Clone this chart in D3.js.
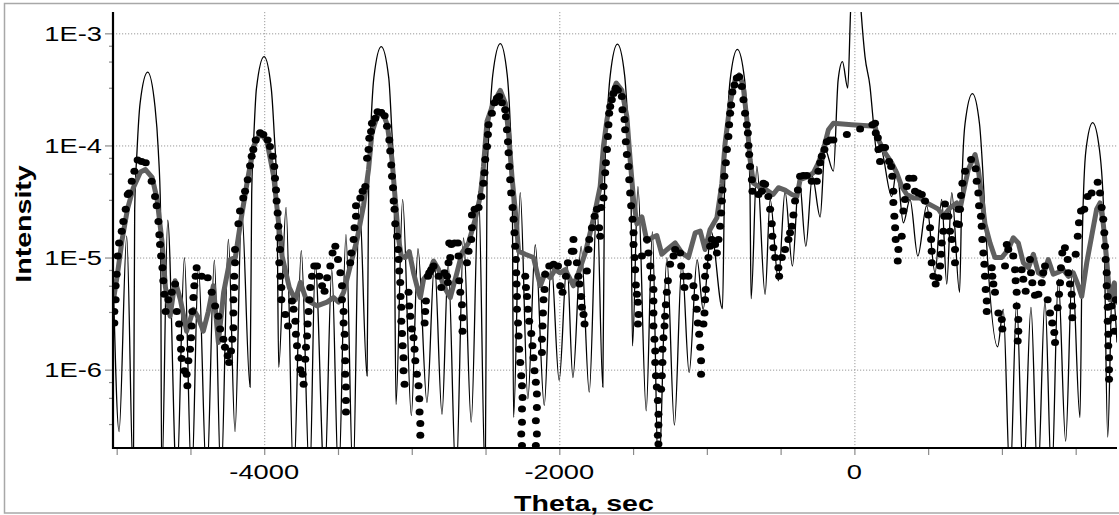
<!DOCTYPE html>
<html>
<head>
<meta charset="utf-8">
<script src="https://cdn.jsdelivr.net/npm/d3@7/dist/d3.min.js"></script>
<style>
  body { margin: 0; background: #fff; }
  text { font-family: "Liberation Sans", Arial, sans-serif; fill: #000; }
</style>
</head>
<body>
<div id="chart"></div>
<script>
// axis ranges and ticks
const xDomain = [-5025, 1780];
const yDomain = [2e-7, 1.55e-3];
const xMajorTicks = [-4000, -2000, 0];
const xMinorTicks = [-5000, -4500, -4000, -3500, -3000, -2500, -2000, -1500, -1000, -500, 0, 500, 1000, 1500];
const yMajorTicks = [1e-3, 1e-4, 1e-5, 1e-6];
const yMinorMantissa = [7.75, 5.6, 3.27];

// simulated curve (thin black line), [theta, intensity]
const simData = [
  [-5022,5.5e-6],[-4984,2.8e-7],[-4932,1.55e-5],[-4887,1e-7],[-4878,2.7e-5],[-4862,9e-5],[-4841,2.4e-4],
  [-4790,4.5e-4],[-4740,2.2e-4],[-4718,9e-5],[-4703,2.7e-5],
  [-4695,1e-7],[-4654,2.15e-5],[-4593,1e-7],[-4541,1e-5],[-4492,1e-7],[-4446,8.4e-6],[-4390,1e-7],
  [-4338,9.5e-6],[-4293,1e-7],[-4243,1.45e-5],[-4198,2.8e-7],[-4153,2.7e-5],[-4096,7e-7],
  [-4085,3.7e-5],[-4070,1.25e-4],[-4053,3.2e-4],[-4001,6.2e-4],[-3952,3.2e-4],[-3932,1.25e-4],[-3914,3.7e-5],
  [-3902,1.05e-6],[-3852,2.8e-5],[-3801,1e-7],[-3749,1.15e-5],[-3692,1e-7],
  [-3654,8.7e-6],[-3591,1e-7],[-3542,7.8e-6],[-3496,1e-7],[-3446,1.6e-5],[-3398,1e-7],[-3356,3.3e-5],
  [-3303,8.8e-7],[-3292,4.5e-5],[-3277,1.5e-4],[-3257,4e-4],[-3207,7.6e-4],[-3156,4e-4],[-3137,1.5e-4],
  [-3120,4.5e-5],[-3107,4.9e-7],[-3062,3.3e-5],[-3003,3.9e-7],
  [-2958,1.2e-5],[-2897,5.1e-7],[-2846,9e-6],[-2795,4e-7],[-2753,8.7e-6],[-2700,1e-7],[-2649,1.5e-5],
  [-2597,3.4e-7],[-2547,3.9e-5],[-2502,1e-7],[-2490,4.8e-5],[-2473,1.6e-4],[-2451,4.25e-4],[-2400,8.1e-4],
  [-2353,4.25e-4],[-2333,1.6e-4],[-2319,4.8e-5],[-2310,3.75e-7],
  [-2265,3.8e-5],[-2213,5.5e-7],[-2163,1.3e-5],[-2102,4.8e-7],[-2055,9e-6],[-2001,8e-7],[-1948,9e-6],
  [-1908,8.5e-7],[-1852,1.26e-5],[-1797,6.3e-7],[-1745,3.2e-5],[-1705,7e-7],[-1693,4.8e-5],[-1677,1.6e-4],
  [-1655,4.2e-4],[-1606,8e-4],[-1557,4.2e-4],[-1535,1.6e-4],[-1515,4.8e-5],
  [-1504,1.63e-6],[-1467,4.3e-5],[-1411,4.3e-7],[-1369,1.7e-5],[-1328,1e-7],[-1271,1e-5],
  [-1220,3.2e-7],[-1169,9e-6],[-1120,9.4e-7],[-1066,9.6e-6],[-1025,3.45e-6],[-971,1.7e-5],[-894,3.5e-6],
  [-880,4.3e-5],[-863,1.45e-4],[-842,3.85e-4],[-793,7.2e-4],[-744,3.85e-4],[-724,1.45e-4],[-708,4.3e-5],
  [-700,4.3e-6],[-661,6.5e-5],[-605,4.7e-6],[-571,3.3e-5],
  [-515,6.2e-6],[-470,3.9e-5],[-420,8.4e-6],[-375,5.3e-5],[-329,1.26e-5],[-285,5.3e-5],[-232,2.3e-5],
  [-199,9.2e-5],[-142,5.9e-5],[-110,3.85e-4],[-81,5.6e-4],[-45,3.25e-4],[-26,1.55e-3],[8,1e-2],[45,1.6e-3],
  [72,6.2e-4],[106,3.35e-4],[129,1.6e-4],[152,8.6e-5],[174,9.8e-5],[253,3.5e-5],[287,6.1e-5],[332,2.04e-5],
  [377,3.3e-5],[430,1.03e-5],[490,2.9e-5],[547,7.3e-6],[592,3.3e-5],[626,5.8e-6],[660,3.8e-5],[713,4.9e-6],
  [730,5e-5],[750,1.56e-4],[800,2.9e-4],[848,1.56e-4],[870,6e-5],[886,2.3e-5],[971,1.6e-6],[1009,3.45e-6],
  [1055,1e-7],[1100,4e-6],
  [1145,1e-7],[1197,3.6e-6],[1243,1e-7],[1292,4.2e-6],[1337,1e-7],[1382,6.4e-6],[1432,2.3e-7],[1477,7.8e-6],
  [1529,3.75e-7],[1545,1.5e-5],[1570,9.2e-5],[1615,1.6e-4],[1661,9.2e-5],[1690,2.5e-5],[1717,2.5e-7],
  [1748,5.6e-6],[1780,1.75e-6]
];

// measured points (black dots)
const expData = [
  [-5016,2.6e-6],[-5016,3.3e-6],[-5007,4.2e-6],[-5007,5.6e-6],[-5000,7.1e-6],[-4993,1.03e-5],[-4984,1.35e-5],
  [-4966,1.72e-5],[-4955,2.1e-5],[-4939,2.7e-5],[-4925,3.65e-5],[-4916,3.77e-5],[-4898,4.8e-5],[-4880,5.9e-5],
  [-4858,7.4e-5],[-4831,7.2e-5],[-4803,7.0e-5],[-4763,4.8e-5],[-4740,3.5e-5],[-4729,2.9e-5],[-4717,2.1e-5],
  [-4711,1.6e-5],[-4706,1.31e-5],[-4699,1.03e-5],[-4690,8.1e-6],[-4684,6.2e-6],[-4677,4.7e-6],[-4668,3.3e-6],
  [-4650,4.2e-6],[-4627,4.9e-6],[-4604,5.8e-6],[-4593,3.3e-6],[-4577,2.55e-6],[-4570,1.93e-6],[-4564,1.52e-6],
  [-4560,1.26e-6],[-4541,9.8e-7],[-4526,9.1e-7],[-4521,7.2e-7],[-4514,1.2e-6],[-4503,1.52e-6],[-4496,1.93e-6],
  [-4492,2.45e-6],[-4487,3.3e-6],[-4480,4.4e-6],[-4474,5.6e-6],[-4465,6.8e-6],[-4458,8.1e-6],[-4424,6.8e-6],
  [-4383,6.6e-6],[-4356,4.9e-6],[-4333,3.7e-6],[-4311,3.0e-6],[-4299,2.3e-6],[-4277,1.87e-6],[-4266,1.58e-6],
  [-4248,1.33e-6],[-4238,1.16e-6],[-4225,1.47e-6],[-4216,1.87e-6],[-4209,2.37e-6],[-4209,3.2e-6],[-4209,4.2e-6],
  [-4203,5.4e-6],[-4203,6.8e-6],[-4198,9.0e-6],[-4198,1.18e-5],[-4175,2.0e-5],[-4164,2.6e-5],[-4142,3.4e-5],
  [-4130,3.9e-5],[-4112,4.95e-5],[-4096,6.6e-5],[-4085,8.0e-5],[-4074,9.2e-5],[-4058,1.12e-4],[-4028,1.3e-4],
  [-4006,1.25e-4],[-3977,1.12e-4],[-3961,9.8e-5],[-3943,8.0e-5],[-3932,6.5e-5],[-3927,5.1e-5],[-3920,4.0e-5],
  [-3916,3.2e-5],[-3909,2.5e-5],[-3904,1.9e-5],[-3900,1.5e-5],[-3893,1.18e-5],
  [-3898,9.0e-6],[-3891,6.8e-6],[-3884,5.4e-6],[-3884,4.2e-6],[-3857,3.1e-6],[-3839,2.45e-6],[-3812,4.1e-6],
  [-3801,3.45e-6],[-3789,2.7e-6],[-3785,2.07e-6],[-3778,1.63e-6],[-3767,1.28e-6],[-3755,1.0e-6],[-3740,9.1e-7],
  [-3733,7.4e-7],[-3722,1.24e-6],[-3717,1.58e-6],[-3710,2.0e-6],[-3706,2.55e-6],[-3699,3.3e-6],[-3694,4.2e-6],
  [-3688,5.4e-6],[-3676,6.8e-6],[-3661,8.4e-6],[-3642,8.4e-6],[-3627,6.8e-6],[-3608,5.6e-6],[-3591,5.0e-6],
  [-3574,6.6e-6],[-3552,8.4e-6],[-3537,1.1e-5],[-3518,1.26e-5],[-3500,9.6e-6],[-3484,7.3e-6],[-3473,5.6e-6],
  [-3473,4.2e-6],[-3462,3.3e-6],[-3462,2.6e-6],[-3455,2.07e-6],[-3455,1.58e-6],[-3451,1.2e-6],[-3451,9.1e-7],
  [-3446,7.0e-7],[-3446,5.3e-7],[-3446,4.2e-7],[-3417,9.0e-6],[-3410,1.1e-5],[-3394,1.45e-5],[-3388,1.84e-5],
  [-3378,2.33e-5],[-3378,2.9e-5],[-3349,3.4e-5],[-3333,3.9e-5],[-3315,4.3e-5],[-3303,7.7e-5],[-3293,9.2e-5],
  [-3288,1.16e-4],[-3276,1.33e-4],[-3270,1.58e-4],[-3247,1.75e-4],[-3232,2.0e-4],[-3207,1.97e-4],[-3184,1.84e-4],
  [-3168,1.48e-4],[-3152,1.12e-4],[-3146,8.9e-5],[-3139,6.7e-5],[-3134,5.3e-5],[-3127,4.2e-5],[-3123,3.2e-5],
  [-3117,2.7e-5],[-3112,2.0e-5],[-3100,1.55e-5],[-3093,1.18e-5],[-3089,9.6e-6],[-3085,7.6e-6],[-3078,6.0e-6],
  [-3076,4.5e-6],[-3071,3.6e-6],[-3071,2.7e-6],[-3066,2.1e-6],[-3062,1.63e-6],[-3056,1.28e-6],[-3056,9.8e-7],
  [-3049,7.4e-7],[-3022,4.9e-6],[-3017,3.7e-6],[-3010,3.0e-6],[-2999,2.3e-6],[-2988,1.93e-6],[-2981,1.52e-6],
  [-2976,1.2e-6],[-2965,9.1e-7],[-2954,7.2e-7],[-2949,5.5e-7],[-2947,4.2e-7],[-2942,3.3e-7],[-2942,2.6e-7],
  [-2913,2.6e-6],[-2909,3.3e-6],[-2904,4.1e-6],[-2890,6.8e-6],[-2881,7.3e-6],[-2868,7.8e-6],[-2852,8.4e-6],
  [-2818,6.8e-6],[-2800,5.4e-6],[-2778,7.3e-6],[-2761,6.8e-6],[-2751,9.0e-6],[-2746,1.35e-5],
  [-2755,6.0e-6],[-2739,1.0e-5],[-2732,1.31e-5],[-2710,1.35e-5],[-2687,1.35e-5],[-2683,1.03e-5],[-2678,6.2e-6],
  [-2671,4.9e-6],[-2660,3.8e-6],[-2656,2.9e-6],[-2656,2.2e-6],[-2626,9.0e-6],[-2615,1.14e-5],[-2597,1.45e-5],
  [-2592,1.84e-5],[-2592,2.4e-5],[-2574,2.7e-5],[-2547,2.8e-5],[-2529,3.5e-5],[-2514,4.6e-5],[-2507,5.7e-5],
  [-2502,7.5e-5],[-2490,9.8e-5],[-2484,1.25e-4],[-2480,1.53e-4],[-2457,1.94e-4],[-2439,2.4e-4],[-2423,2.64e-4],
  [-2407,2.73e-4],[-2389,2.4e-4],[-2367,2.08e-4],[-2362,1.8e-4],[-2355,1.38e-4],[-2348,1.08e-4],[-2344,8.6e-5],
  [-2339,6.5e-5],[-2333,4.95e-5],[-2326,3.77e-5],[-2317,2.8e-5],[-2310,2.2e-5],[-2304,1.66e-5],[-2299,1.26e-5],
  [-2294,9.6e-6],[-2292,7.3e-6],[-2290,5.8e-6],[-2287,4.5e-6],[-2287,3.45e-6],[-2280,2.6e-6],[-2276,2.0e-6],
  [-2272,1.52e-6],[-2265,1.16e-6],[-2258,8.8e-7],[-2253,7.2e-7],[-2249,5.65e-7],[-2253,4.45e-7],[-2253,3.4e-7],
  [-2258,2.67e-7],[-2253,2.1e-7],
  [-2231,6.8e-6],[-2226,5.4e-6],[-2219,4.5e-6],[-2213,3.45e-6],[-2204,2.7e-6],[-2190,2.1e-6],[-2182,1.63e-6],
  [-2175,1.28e-6],[-2168,9.8e-7],[-2159,7.7e-7],[-2152,6.05e-7],[-2152,4.6e-7],[-2159,3.5e-7],[-2152,2.67e-7],
  [-2159,2.1e-7],
  [-2118,1.42e-6],[-2118,1.87e-6],[-2114,2.45e-6],[-2111,3.2e-6],[-2107,4.2e-6],[-2100,5.2e-6],[-2096,7.1e-6],
  [-2068,8.4e-6],[-2039,8.7e-6],[-2009,8.4e-6],[-1994,5.6e-6],[-1978,4.9e-6],[-1955,6.8e-6],[-1942,9.0e-6],
  [-1915,1.14e-5],[-1904,1.45e-5],[-1904,1.14e-5],[-1881,9.0e-6],[-1870,6.8e-6],[-1863,5.8e-6],[-1852,4.5e-6],
  [-1847,3.6e-6],[-1836,3.1e-6],[-1829,2.55e-6],[-1813,7.6e-6],[-1802,1.18e-5],[-1797,1.45e-5],[-1779,1.84e-5],
  [-1761,2.33e-5],[-1745,2.7e-5],[-1730,1.84e-5],[-1723,1.55e-5],[-1716,2.8e-5],[-1700,3.4e-5],[-1700,4.3e-5],
  [-1689,5.7e-5],[-1684,7.0e-5],[-1677,9.2e-5],[-1671,1.2e-4],[-1667,1.53e-4],[-1662,1.94e-4],[-1655,2.22e-4],
  [-1644,2.55e-4],[-1633,2.9e-4],[-1617,3.24e-4],[-1603,3.1e-4],
  [-1576,2.73e-4],[-1572,2.08e-4],[-1558,1.7e-4],[-1554,1.38e-4],[-1549,1.08e-4],[-1542,8.3e-5],[-1531,6.5e-5],
  [-1526,4.95e-5],[-1520,3.77e-5],[-1513,2.9e-5],[-1504,2.2e-5],[-1497,1.66e-5],[-1497,1.31e-5],[-1490,1.0e-5],
  [-1486,7.8e-6],[-1481,5.7e-6],[-1474,4.7e-6],[-1467,4.0e-6],[-1463,3.1e-6],[-1467,2.55e-6],[-1440,1.03e-5],
  [-1406,1.45e-5],[-1396,1.1e-5],[-1384,8.4e-6],[-1373,6.6e-6],[-1362,5.2e-6],[-1362,4.1e-6],[-1362,3.2e-6],
  [-1362,2.45e-6],[-1355,1.87e-6],[-1350,1.47e-6],[-1350,1.16e-6],[-1345,8.8e-7],[-1339,7.0e-7],[-1332,5.3e-7],
  [-1328,4.0e-7],[-1328,3.2e-7],[-1332,2.6e-7],[-1328,2.17e-7],[-1310,6.7e-7],[-1305,8.8e-7],[-1301,1.16e-6],
  [-1301,1.52e-6],[-1294,1.93e-6],[-1287,2.45e-6],[-1283,3.0e-6],[-1278,3.8e-6],[-1271,4.9e-6],[-1264,6.2e-6],
  [-1249,8.7e-6],[-1226,1.03e-5],[-1215,1.18e-5],[-1181,1.1e-5],[-1174,8.4e-6],[-1159,6.8e-6],[-1152,5.4e-6],
  [-1125,6.8e-6],[-1091,5.6e-6],[-1079,4.4e-6],[-1068,3.45e-6],[-1061,2.6e-6],[-1052,2.07e-6],[-1045,1.58e-6],
  [-1039,1.2e-6],[-1039,9.1e-7],[-1023,2.55e-6],[-1016,3.2e-6],[-1012,4.2e-6],[-1007,5.2e-6],[-1012,6.8e-6],
  [-1000,8.4e-6],[-989,1.0e-5],[-978,1.26e-5],[-966,1.45e-5],[-944,1.31e-5],[-932,1.1e-5],[-921,1.45e-5],
  [-910,1.9e-5],[-903,2.5e-5],[-898,3.2e-5],[-894,4.0e-5],[-881,5.3e-5],[-871,7.0e-5],[-864,9.2e-5],
  [-854,1.2e-4],[-849,1.53e-4],[-842,1.94e-4],[-835,2.3e-4],[-827,3.0e-4],[-813,3.46e-4],[-797,4.0e-4],
  [-781,4.1e-4],[-763,3.35e-4],[-752,2.55e-4],[-741,1.94e-4],[-729,1.53e-4],[-722,1.29e-4],[-718,1.0e-4],
  [-713,8.3e-5],[-707,6.5e-5],[-695,4.95e-5],[-691,3.9e-5],[-650,3.65e-5],[-627,3.9e-5],[-617,4.6e-5],
  [-605,4.5e-5],[-583,3.5e-5],[-571,2.7e-5],[-560,2.0e-5],[-556,1.55e-5],[-549,1.22e-5],[-537,1.0e-5],
  [-515,8.1e-6],[-510,6.8e-6],[-492,1.0e-5],[-470,1.18e-5],[-447,1.45e-5],[-436,1.66e-5],
  [-424,1.9e-5],[-413,2.4e-5],[-402,3.2e-5],[-383,4.0e-5],[-368,5.3e-5],[-346,5.4e-5],[-322,5.4e-5],
  [-289,4.8e-5],[-255,4.8e-5],[-244,5.9e-5],[-232,7.0e-5],[-221,8.0e-5],[-203,9.2e-5],[-187,1.08e-4],
  [-165,1.12e-4],[-142,1.12e-4],[-51,1.25e-4],[39,1.4e-4],[122,1.53e-4],[140,1.58e-4],[145,1.29e-4],
  [159,1.17e-4],[163,9.2e-5],[174,7.2e-5],[186,9.6e-5],[208,9.6e-5],[235,7.2e-5],[249,6.5e-5],[257,5.3e-5],
  [264,3.9e-5],[264,3.1e-5],[271,2.33e-5],[276,1.84e-5],[280,1.45e-5],[298,1.18e-5],[294,9.3e-6],[321,1.55e-5],
  [332,2.6e-5],[343,3.3e-5],[355,4.3e-5],[371,5.1e-5],[400,5.1e-5],[411,3.9e-5],[434,3.77e-5],[457,3.65e-5],
  [479,3.2e-5],[501,2.4e-5],[513,1.84e-5],[520,1.45e-5],[524,1.14e-5],[524,9.0e-6],[535,6.8e-6],[551,5.8e-6],
  [569,6.6e-6],[581,8.4e-6],[587,1.07e-5],[592,1.35e-5],[603,1.72e-5],[610,2.33e-5],[614,3.0e-5],[637,2.33e-5],
  [648,1.72e-5],[660,1.45e-5],[682,1.18e-5],[682,9.0e-6],[694,2.0e-5],[705,2.7e-5],
  [709,1.97e-5],[716,2.7e-5],[723,3.57e-5],[732,4.6e-5],[750,5.9e-5],[791,7.5e-5],[822,6.2e-5],[829,4.8e-5],
  [840,3.77e-5],[845,2.9e-5],[858,2.33e-5],[863,1.9e-5],[867,1.45e-5],[874,1.1e-5],[881,8.7e-6],[885,6.8e-6],
  [890,5.2e-6],[897,4.1e-6],[897,3.3e-6],[931,8.1e-6],[935,6.8e-6],[942,5.8e-6],[953,4.9e-6],[976,3.2e-6],
  [999,2.8e-6],[1003,2.3e-6],[1021,8.4e-6],[1033,1.31e-5],[1043,1.18e-5],[1077,1.03e-5],[1089,7.8e-6],
  [1093,6.2e-6],[1100,4.9e-6],[1100,3.7e-6],[1111,2.8e-6],[1111,2.2e-6],[1107,1.8e-6],[1134,7.8e-6],
  [1145,6.4e-6],[1161,5.0e-6],[1190,9.6e-6],[1197,7.3e-6],[1206,5.95e-6],[1224,4.6e-6],[1247,4.7e-6],
  [1270,5.95e-6],[1280,7.3e-6],[1292,8.4e-6],[1310,4.2e-6],[1326,3.2e-6],[1341,2.6e-6],[1355,2.14e-6],
  [1360,1.75e-6],[1378,3.57e-6],[1387,4.7e-6],[1394,5.95e-6],[1400,8.1e-6],[1409,1.1e-5],[1427,1.22e-5],
  [1446,9.6e-6],[1450,7.3e-6],[1461,5.8e-6],[1473,4.7e-6],[1477,3.7e-6],[1477,2.9e-6],[1500,1.07e-5],
  [1514,1.55e-5],[1522,2.04e-5],[1536,2.6e-5],[1558,2.7e-5],[1581,3.5e-5],[1608,3.77e-5],[1649,4.7e-5],
  [1665,3.77e-5],[1676,2.8e-5],[1687,2.2e-5],[1694,1.66e-5],[1699,1.26e-5],[1703,9.6e-6],[1710,7.3e-6],
  [1710,5.6e-6],[1717,4.5e-6],[1717,3.6e-6],[1717,2.7e-6],[1721,2.07e-6],[1721,1.63e-6],[1726,1.28e-6],
  [1726,1.0e-6],[1726,8.2e-7],[1744,3.7e-6],[1755,2.9e-6],[1762,2.2e-6],[1771,4.2e-6]
];

// fitted curve (thick grey line)
const fitData = [
  [-5022,4.2e-6],[-4995,7.1e-6],[-4963,1.45e-5],[-4927,2.7e-5],[-4887,4.2e-5],[-4839,5.8e-5],[-4805,6.1e-5],
  [-4760,5.2e-5],[-4726,3.3e-5],[-4692,1.36e-5],[-4670,5.5e-6],[-4638,3.0e-6],[-4604,6.2e-6],[-4568,4.2e-6],
  [-4526,2.2e-6],[-4480,3.45e-6],[-4446,2.9e-6],[-4413,2.2e-6],[-4379,3.3e-6],[-4345,5.6e-6],[-4311,1.75e-6],
  [-4275,4.9e-6],[-4232,9.6e-6],[-4196,1.0e-5],[-4162,2.0e-5],[-4117,4.6e-5],[-4072,9.8e-5],[-4026,1.29e-4],
  [-3981,1.08e-4],[-3936,5.3e-5],[-3902,2.0e-5],[-3879,1.03e-5],[-3830,5.4e-6],[-3789,4.2e-6],[-3755,6.0e-6],
  [-3715,4.2e-6],[-3642,3.7e-6],[-3574,4.0e-6],[-3530,4.4e-6],[-3496,4.0e-6],[-3462,4.9e-6],[-3417,8.4e-6],
  [-3371,1.45e-5],[-3327,2.9e-5],[-3293,6.1e-5],[-3270,1.29e-4],[-3236,1.8e-4],[-3200,2.0e-4],[-3166,1.53e-4],
  [-3134,7.5e-5],[-3112,3.3e-5],[-3089,1.45e-5],[-3071,1.03e-5],[-3044,1.0e-5],[-3017,1.13e-5],[-2988,7.3e-6],
  [-2954,4.9e-6],[-2942,4.4e-6],[-2920,6.4e-6],[-2886,7.3e-6],[-2852,9.3e-6],[-2818,7.8e-6],[-2785,5.6e-6],
  [-2739,4.4e-6],[-2694,7.3e-6],[-2660,1.1e-5],[-2615,1.35e-5],[-2570,2.2e-5],[-2536,3.5e-5],[-2514,6.5e-5],
  [-2490,1.64e-4],[-2446,2.4e-4],[-2400,3.1e-4],[-2366,2.4e-4],[-2344,1.29e-4],[-2321,5.3e-5],[-2299,2.7e-5],
  [-2276,1.14e-5],[-2231,1.07e-5],[-2175,1.0e-5],[-2129,5.6e-6],[-2096,7.3e-6],[-2062,6.6e-6],[-2028,7.8e-6],
  [-1994,7.3e-6],[-1960,7.8e-6],[-1926,6.4e-6],[-1904,5.6e-6],[-1870,7.3e-6],[-1824,1.1e-5],[-1791,1.66e-5],
  [-1757,2.6e-5],[-1723,4.3e-5],[-1701,9.8e-5],[-1677,1.7e-4],[-1644,2.9e-4],[-1614,3.6e-4],[-1576,3.1e-4],
  [-1542,1.8e-4],[-1520,7.5e-5],[-1497,3.3e-5],[-1474,2.0e-5],[-1440,2.3e-5],[-1406,1.39e-5],[-1373,1.5e-5],
  [-1339,1.57e-5],[-1305,1.07e-5],[-1269,1.18e-5],[-1215,1.35e-5],[-1169,1.1e-5],[-1125,1.0e-5],[-1079,1.66e-5],
  [-1045,1.72e-5],[-1012,1.18e-5],[-978,1.78e-5],[-932,2.26e-5],[-898,4.6e-5],[-876,1.05e-4],[-842,2.4e-4],
  [-808,3.85e-4],[-781,4.25e-4],[-754,3.45e-4],[-729,1.7e-4],[-707,7.5e-5],[-684,4.6e-5],[-650,4.3e-5],
  [-619,4.2e-5],[-583,3.9e-5],[-551,3.65e-5],[-515,4.2e-5],[-470,4.0e-5],[-424,3.65e-5],[-390,3.5e-5],
  [-368,4.95e-5],[-312,5.3e-5],[-278,5.7e-5],[-244,7.0e-5],[-210,9.2e-5],[-176,1.38e-4],[-142,1.58e-4],
  [-18,1.53e-4],[140,1.48e-4],[163,1.12e-4],[208,8.6e-5],[253,7.0e-5],[287,5.7e-5],[321,4.3e-5],[355,3.65e-5],
  [400,3.4e-5],[445,3.4e-5],[491,3.07e-5],[535,2.86e-5],[569,2.7e-5],[603,2.33e-5],[648,2.77e-5],[694,3.07e-5],
  [716,2.7e-5],[738,3.77e-5],[772,6.1e-5],[818,8.3e-5],[840,6.1e-5],[863,3.5e-5],[885,2.0e-5],[919,1.35e-5],
  [953,1.0e-5],[999,1.0e-5],[1043,1.18e-5],[1077,1.5e-5],[1111,1.35e-5],[1145,9.0e-6],[1179,8.1e-6],
  [1213,1.07e-5],[1247,7.3e-6],[1280,6.9e-6],[1314,9.6e-6],[1348,7.1e-6],[1382,7.4e-6],[1416,7.8e-6],
  [1450,6.8e-6],[1484,7.3e-6],[1518,5.6e-6],[1541,4.5e-6],[1575,9.0e-6],[1608,1.55e-5],[1642,2.7e-5],
  [1665,3.07e-5],[1687,2.0e-5],[1710,9.6e-6],[1732,4.2e-6],[1762,5.95e-6],[1780,4.0e-6]
];

const W = 1119, H = 515;
const plot = { left: 113, right: 1117, top: 12, bottom: 448 };
const stretch = 1.3; // labels in the original are widened along the baseline

const svg = d3.select("#chart").append("svg")
  .attr("width", W).attr("height", H);

// outer frame
svg.append("rect")
  .attr("x", 4.5).attr("y", 3.5)
  .attr("width", W + 10).attr("height", 509.5)
  .attr("fill", "none").attr("stroke", "#a8a8a8").attr("stroke-width", 1.5);

const x = d3.scaleLinear().domain(xDomain).range([plot.left, plot.right]);
const y = d3.scaleLog().domain(yDomain).range([plot.bottom, plot.top]);

svg.append("defs").append("clipPath").attr("id", "clip")
  .append("rect")
  .attr("x", plot.left).attr("y", plot.top)
  .attr("width", plot.right - plot.left).attr("height", plot.bottom - plot.top);

// dotted grid
const grid = svg.append("g").attr("stroke", "#9a9a9a").attr("stroke-width", 1)
  .attr("stroke-dasharray", "1.2,1.8");
grid.selectAll(".gx").data(xMajorTicks).enter().append("line")
  .attr("x1", d => x(d) + 0.5).attr("x2", d => x(d) + 0.5)
  .attr("y1", plot.top).attr("y2", plot.bottom);
grid.selectAll(".gy").data(yMajorTicks).enter().append("line")
  .attr("x1", plot.left).attr("x2", plot.right)
  .attr("y1", d => y(d) + 0.5).attr("y2", d => y(d) + 0.5);

const layer = svg.append("g").attr("clip-path", "url(#clip)");

// simulation
const line = d3.line()
  .x(d => x(d[0]))
  .y(d => y(d[1]))
  .curve(d3.curveMonotoneX);

layer.append("path")
  .attr("d", line(simData))
  .attr("fill", "none")
  .attr("stroke", "#000")
  .attr("stroke-width", 1.3);

// fit
const fitLine = d3.line()
  .x(d => x(d[0]))
  .y(d => y(d[1]));

layer.append("path")
  .attr("d", fitLine(fitData))
  .attr("fill", "none")
  .attr("stroke", "#606060")
  .attr("stroke-width", 5)
  .attr("stroke-linejoin", "round")
  .attr("stroke-linecap", "round");

// experiment dots
layer.selectAll(".dot").data(expData).enter().append("ellipse")
  .attr("cx", d => x(d[0]))
  .attr("cy", d => y(d[1]))
  .attr("rx", 4).attr("ry", 3.5)
  .attr("fill", "#000");

// ticks
const tickG = svg.append("g").attr("stroke", "#8a8a8a").attr("stroke-width", 1.2);
tickG.selectAll(".tx").data(xMinorTicks).enter().append("line")
  .attr("x1", d => x(d) + 0.5).attr("x2", d => x(d) + 0.5)
  .attr("y1", plot.bottom).attr("y2", plot.bottom + 7);
tickG.selectAll(".ty").data(yMajorTicks).enter().append("line")
  .attr("x1", plot.left - 8).attr("x2", plot.left)
  .attr("y1", d => y(d) + 0.5).attr("y2", d => y(d) + 0.5);
const yMinor = [];
yMajorTicks.forEach(v => yMinorMantissa.forEach(m => {
  const t = v * m / 10;
  if (t >= yDomain[0]) yMinor.push(t);
}));
tickG.selectAll(".tym").data(yMinor).enter().append("line")
  .attr("x1", plot.left - 4).attr("x2", plot.left)
  .attr("y1", d => y(d) + 0.5).attr("y2", d => y(d) + 0.5);

// axis lines
svg.append("line")
  .attr("x1", plot.left).attr("x2", plot.left)
  .attr("y1", plot.top).attr("y2", plot.bottom + 1)
  .attr("stroke", "#000").attr("stroke-width", 2.2);
svg.append("line")
  .attr("x1", plot.left - 1).attr("x2", plot.right)
  .attr("y1", plot.bottom).attr("y2", plot.bottom)
  .attr("stroke", "#000").attr("stroke-width", 2.2);

// tick labels
const fmtY = v => "1E" + Math.round(Math.log10(v));
svg.selectAll(".ly").data(yMajorTicks).enter().append("text")
  .attr("transform", d => `translate(102,${y(d) + 7.5}) scale(${stretch},1)`)
  .attr("text-anchor", "end")
  .attr("font-size", "21px")
  .text(fmtY);

svg.selectAll(".lx").data(xMajorTicks).enter().append("text")
  .attr("transform", d => `translate(${x(d)},479) scale(${stretch},1)`)
  .attr("text-anchor", "middle")
  .attr("font-size", "21px")
  .text(d => d3.format("d")(d).replace("\u2212", "-"));

// axis titles
svg.append("text")
  .attr("transform", `translate(584,511) scale(${stretch},1)`)
  .attr("text-anchor", "middle")
  .attr("font-size", "22px")
  .attr("font-weight", "bold")
  .text("Theta, sec");

svg.append("text")
  .attr("transform", `translate(31,224) rotate(-90) scale(${stretch},1)`)
  .attr("text-anchor", "middle")
  .attr("font-size", "22px")
  .attr("font-weight", "bold")
  .text("Intensity");
</script>
</body>
</html>
